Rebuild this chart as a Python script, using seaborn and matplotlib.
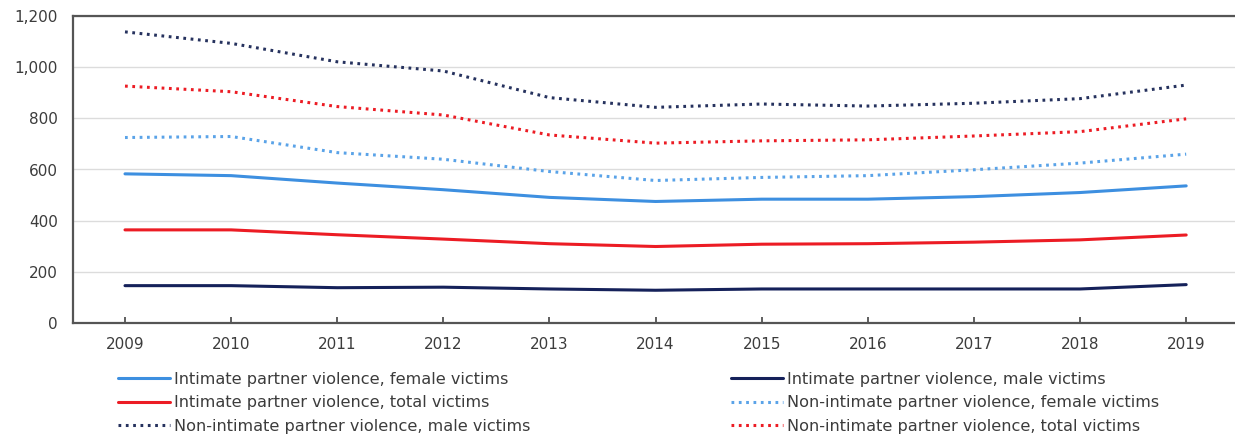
import matplotlib
matplotlib.use("Agg")
import matplotlib.pyplot as plt
from matplotlib.lines import Line2D
from matplotlib.ticker import FuncFormatter
import seaborn as sns
import pandas as pd

years = [2009, 2010, 2011, 2012, 2013, 2014, 2015, 2016, 2017, 2018, 2019]

ipv_female = [583, 576, 547, 521, 491, 475, 484, 484, 494, 510, 536]
ipv_male = [146, 146, 138, 140, 133, 128, 133, 133, 133, 133, 150]
ipv_total = [364, 364, 345, 328, 310, 299, 308, 310, 316, 325, 344]
nipv_female = [725, 729, 666, 640, 592, 557, 569, 576, 599, 625, 660]
nipv_male = [1138, 1093, 1021, 985, 881, 843, 856, 848, 859, 877, 930]
nipv_total = [926, 904, 846, 813, 735, 703, 712, 716, 731, 748, 798]

labels = [
    "Intimate partner violence, female victims",
    "Intimate partner violence, male victims",
    "Intimate partner violence, total victims",
    "Non-intimate partner violence, female victims",
    "Non-intimate partner violence, male victims",
    "Non-intimate partner violence, total victims",
]
values = [ipv_female, ipv_male, ipv_total, nipv_female, nipv_male, nipv_total]

BLUE = "#3d8fe0"
LIGHT_BLUE = "#5aa3e8"
NAVY = "#15215a"
DARK_DOT = "#26325e"
RED = "#ec1c24"
DOT = (0, (0.9, 1.5))
styles = [
    (BLUE, "-", 2.2),
    (NAVY, "-", 2.2),
    (RED, "-", 2.2),
    (LIGHT_BLUE, DOT, 2.2),
    (DARK_DOT, DOT, 2.2),
    (RED, DOT, 2.2),
]

sns.set_theme(style="white")
plt.rcParams["font.family"] = ["DejaVu Sans"]
TEXT = "#3c3c3c"

fig = plt.figure(figsize=(12.35, 4.36), dpi=100)
ax = fig.add_axes([73 / 1235, 1 - 323 / 436, 1 - 73 / 1235, (323 - 16) / 436])

handles = {}
for lab, vals, (col, ls, lw) in zip(labels, values, styles):
    df = pd.DataFrame({"year": years, "value": vals})
    sns.lineplot(data=df, x="year", y="value", ax=ax, color=col,
                 linestyle=ls, linewidth=lw, legend=False)
    handles[lab] = Line2D([], [], color=col, linestyle=ls, linewidth=lw)

ax.set_xlim(2008.51, 2019.46)
ax.set_ylim(0, 1200)
ax.set_yticks(range(0, 1201, 200))
ax.set_xticks(years)
ax.yaxis.set_major_formatter(FuncFormatter(lambda v, p: f"{int(v):,}"))
ax.set_xlabel("")
ax.set_ylabel("")
ax.grid(axis="y", color="#dcdcdc", linewidth=1.0)
ax.grid(axis="x", visible=False)
ax.set_axisbelow(True)

for side in ["left", "bottom", "top"]:
    ax.spines[side].set_visible(True)
    ax.spines[side].set_color("#555555")
    ax.spines[side].set_linewidth(1.6)
ax.spines["right"].set_visible(False)

ax.tick_params(axis="y", length=0, pad=11, labelsize=11, labelcolor=TEXT)
ax.tick_params(axis="x", direction="in", length=4, width=1.2, color="#444444",
               pad=10, labelsize=11, labelcolor=TEXT, bottom=True)

left_cols = [labels[0], labels[2], labels[4]]
right_cols = [labels[1], labels[3], labels[5]]
for group, xpos in [(left_cols, 118 / 1235), (right_cols, 731 / 1235)]:
    leg = fig.legend([handles[l] for l in group], group,
                     loc="upper left", bbox_to_anchor=(xpos, 1 - 372 / 436),
                     frameon=False, fontsize=11.6, handlelength=3.2,
                     handletextpad=0.25, labelspacing=0.52,
                     borderpad=0, borderaxespad=0)
    for t in leg.get_texts():
        t.set_color(TEXT)

fig.savefig("out.png", dpi=100, facecolor="white")
